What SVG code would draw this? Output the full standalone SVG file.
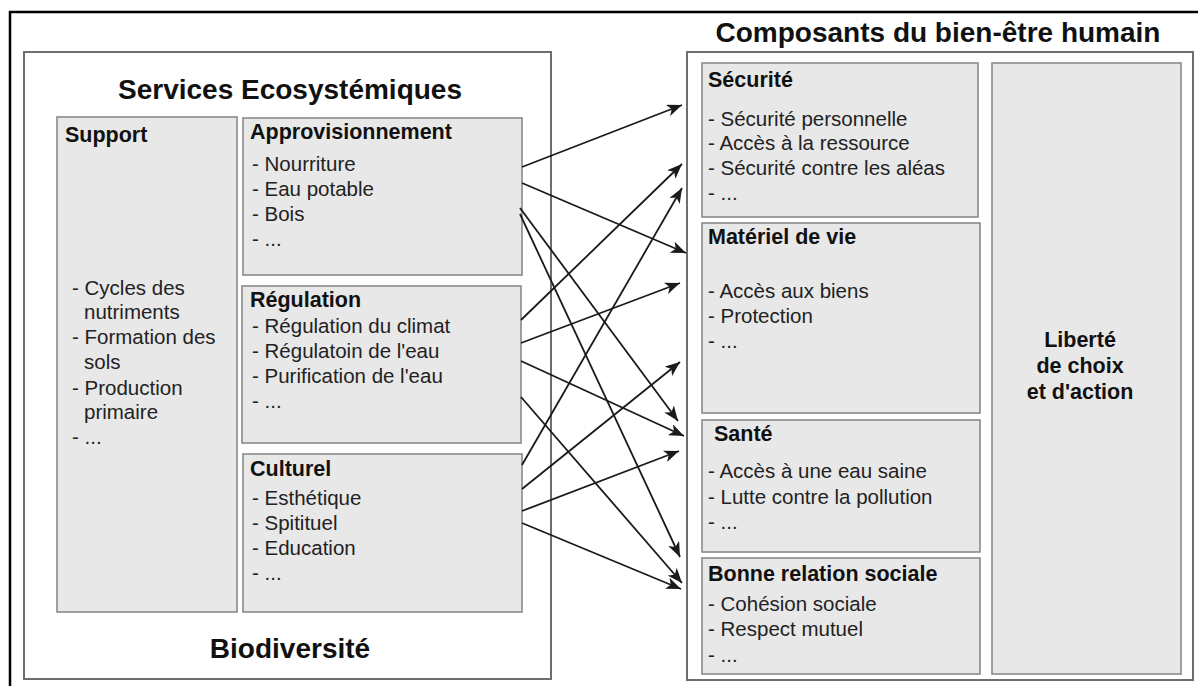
<svg xmlns="http://www.w3.org/2000/svg" width="1198" height="686" viewBox="0 0 1198 686">
<style>
.frame{fill:none;stroke:#000;stroke-width:2.5}
.big{fill:#fff;stroke:#6e6e6e;stroke-width:2}
.box{fill:#e8e8e8;stroke:#8a8a8a;stroke-width:1.6}
text{font-family:"Liberation Sans",Arial,sans-serif}
.title{font-size:28px;font-weight:bold;fill:#111}
.head{font-size:21.5px;font-weight:bold;fill:#111}
.item{font-size:20.5px;fill:#222}
.arr{stroke:#1a1a1a;stroke-width:1.8;fill:none;marker-end:url(#ah)}
</style>
<defs>
<marker id="ah" markerUnits="userSpaceOnUse" markerWidth="16" markerHeight="12" refX="15" refY="6" orient="auto">
<path d="M0,0 L15,6 L0,12 L4,6 Z" fill="#1a1a1a"/>
</marker>
</defs>
<rect width="1198" height="686" fill="#fff"/>
<rect class="frame" x="10" y="12" width="1200" height="700"/>

<g id="services">
<rect class="big" x="24" y="52" width="527" height="627"/>
<text class="title" x="290" y="99" text-anchor="middle">Services Ecosystémiques</text>
<text class="title" x="290" y="658" text-anchor="middle">Biodiversité</text>
</g>

<g id="support">
<rect class="box" x="57" y="117" width="180" height="495"/>
<text class="head" x="65" y="142">Support</text>
<text class="item" x="72" y="295">- Cycles des</text>
<text class="item" x="84" y="319">nutriments</text>
<text class="item" x="72" y="344">- Formation des</text>
<text class="item" x="84" y="369">sols</text>
<text class="item" x="72" y="395">- Production</text>
<text class="item" x="84" y="419">primaire</text>
<text class="item" x="72" y="444">- ...</text>
</g>

<g id="approvisionnement">
<rect class="box" x="243" y="118" width="279" height="157"/>
<text class="head" x="250" y="139">Approvisionnement</text>
<text class="item" x="252" y="171">- Nourriture</text>
<text class="item" x="252" y="196">- Eau potable</text>
<text class="item" x="252" y="221">- Bois</text>
<text class="item" x="252" y="246">- ...</text>
</g>

<g id="regulation">
<rect class="box" x="242" y="286" width="279" height="157"/>
<text class="head" x="250" y="307">Régulation</text>
<text class="item" x="252" y="333">- Régulation du climat</text>
<text class="item" x="252" y="358">- Régulatoin de l'eau</text>
<text class="item" x="252" y="383">- Purification de l'eau</text>
<text class="item" x="252" y="408">- ...</text>
</g>

<g id="culturel">
<rect class="box" x="243" y="454" width="279" height="158"/>
<text class="head" x="250" y="476">Culturel</text>
<text class="item" x="252" y="505">- Esthétique</text>
<text class="item" x="252" y="530">- Spitituel</text>
<text class="item" x="252" y="555">- Education</text>
<text class="item" x="252" y="580">- ...</text>
</g>

<g id="composants">
<text class="title" x="938" y="42" text-anchor="middle">Composants du bien-être humain</text>
<rect class="big" x="687" y="52" width="506" height="628"/>
</g>

<g id="securite">
<rect class="box" x="702" y="63" width="276" height="154"/>
<text class="head" x="708" y="87">Sécurité</text>
<text class="item" x="708" y="126">- Sécurité personnelle</text>
<text class="item" x="708" y="150">- Accès à la ressource</text>
<text class="item" x="708" y="175">- Sécurité contre les aléas</text>
<text class="item" x="708" y="200">- ...</text>
</g>

<g id="materiel">
<rect class="box" x="702" y="223" width="278" height="190"/>
<text class="head" x="708" y="244">Matériel de vie</text>
<text class="item" x="708" y="298">- Accès aux biens</text>
<text class="item" x="708" y="323">- Protection</text>
<text class="item" x="708" y="348">- ...</text>
</g>

<g id="sante">
<rect class="box" x="702" y="420" width="278" height="132"/>
<text class="head" x="714" y="441">Santé</text>
<text class="item" x="708" y="478">- Accès à une eau saine</text>
<text class="item" x="708" y="504">- Lutte contre la pollution</text>
<text class="item" x="708" y="529">- ...</text>
</g>

<g id="relation">
<rect class="box" x="702" y="558" width="278" height="116"/>
<text class="head" x="708" y="581">Bonne relation sociale</text>
<text class="item" x="708" y="611">- Cohésion sociale</text>
<text class="item" x="708" y="636">- Respect mutuel</text>
<text class="item" x="708" y="662">- ...</text>
</g>

<g id="liberte">
<rect class="box" x="992" y="63" width="189" height="611"/>
<text class="head" x="1080" y="347" text-anchor="middle">Liberté</text>
<text class="head" x="1080" y="373" text-anchor="middle">de choix</text>
<text class="head" x="1080" y="399" text-anchor="middle">et d'action</text>
</g>

<g id="connectors">
<line class="arr" x1="522" y1="167" x2="682" y2="105"/>
<line class="arr" x1="522" y1="183" x2="686" y2="253"/>
<line class="arr" x1="520" y1="208" x2="678" y2="421"/>
<line class="arr" x1="520" y1="214" x2="680" y2="557"/>
<line class="arr" x1="521" y1="320" x2="682" y2="164"/>
<line class="arr" x1="521" y1="343" x2="680" y2="283"/>
<line class="arr" x1="521" y1="361" x2="684" y2="436"/>
<line class="arr" x1="521" y1="397" x2="682" y2="583"/>
<line class="arr" x1="522" y1="465" x2="682" y2="188"/>
<line class="arr" x1="522" y1="489" x2="680" y2="362"/>
<line class="arr" x1="522" y1="511" x2="679" y2="451"/>
<line class="arr" x1="522" y1="523" x2="681" y2="589"/>
</g>
</svg>
